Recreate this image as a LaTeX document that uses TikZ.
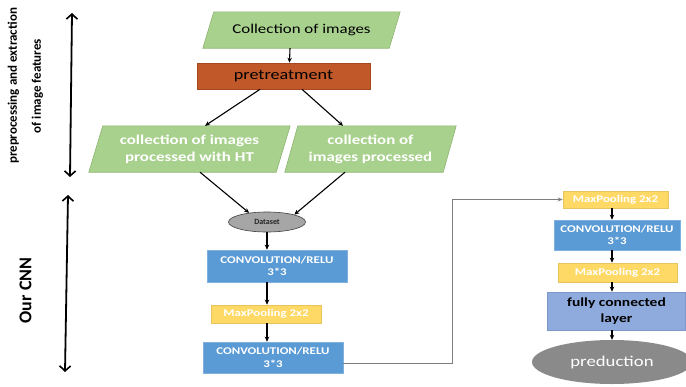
\documentclass[tikz,border=0pt]{standalone}
\usepackage{fontspec}
\setmainfont{Carlito}
\newfontfamily\wf[FakeStretch=1.25]{Carlito}
\usetikzlibrary{arrows.meta,shapes.geometric,calc}
\definecolor{pgreen}{HTML}{A9D18E}
\definecolor{pgreenb}{HTML}{8DB570}
\definecolor{porange}{HTML}{C0582A}
\definecolor{porangeb}{HTML}{A6481F}
\definecolor{pblue}{HTML}{5B9BD5}
\definecolor{pblueb}{HTML}{7FB0DE}
\definecolor{pyellow}{HTML}{FFD966}
\definecolor{pyellowb}{HTML}{E8C55A}
\definecolor{pviolet}{HTML}{8FAADC}
\definecolor{pvioletb}{HTML}{7C97C8}
\definecolor{pgrey}{HTML}{A6A6A6}
\definecolor{pgreyd}{HTML}{8A8A8A}
\definecolor{plink}{HTML}{7F7F7F}
\begin{document}
\begin{tikzpicture}[x=1pt,y=-1pt,
  para/.style={inner sep=0pt,align=center,text=white,font=\wf\bfseries\fontsize{13.5}{17}\selectfont},
  convbox/.style={rectangle,fill=pblue,draw=pblueb,line width=0.6pt,inner sep=0pt,align=center,text=white,font=\wf\bfseries\fontsize{10.3}{12.5}\selectfont},
  poolbox/.style={rectangle,fill=pyellow,draw=pyellowb,line width=0.6pt,inner sep=0pt,align=center,text=white,font=\wf\bfseries\fontsize{10.3}{12}\selectfont},
  flow/.style={-{Stealth[length=5pt,width=4.5pt]},line width=1.1pt,black},
  bigarr/.style={{Straight Barb[length=5pt,width=11pt,line width=1.6pt]}-{Straight Barb[length=5pt,width=11pt,line width=1.6pt]},line width=1.8pt,black},
  side/.style={align=center,font=\bfseries,rotate=90}]
\useasboundingbox (0,0) rectangle (686,386);

% top parallelogram
\node[para,text=black,font=\wf\fontsize{13.5}{16}\selectfont,minimum width=197pt,minimum height=36pt] (top) at (301.5,30) {Collection of images};
\path[fill=pgreen,draw=pgreenb,line width=0.6pt] ([xshift=11pt]top.north west) -- (top.north east) -- ([xshift=-11pt]top.south east) -- (top.south west) -- cycle;
\node[para,text=black,font=\wf\fontsize{13.5}{16}\selectfont] at (top) {Collection of images};

% pretreatment
\node[rectangle,fill=porange,draw=porangeb,line width=0.6pt,minimum width=173pt,minimum height=26pt,inner sep=0pt,font=\wf\fontsize{14.5}{16}\selectfont] (pre) at (283.5,76) {pretreatment};

% left / right parallelograms
\node[para,minimum width=201pt,minimum height=46pt] (lp) at (189.5,149) {};
\path[fill=pgreen,draw=pgreenb,line width=0.6pt] ([xshift=14pt]lp.north west) -- (lp.north east) -- ([xshift=-14pt]lp.south east) -- (lp.south west) -- cycle;
\node[para] at (lp) {collection of images\\processed with HT};

\node[para,minimum width=171pt,minimum height=46pt] (rp) at (370.5,149) {};
\path[fill=pgreen,draw=pgreenb,line width=0.6pt] ([xshift=13pt]rp.north west) -- (rp.north east) -- ([xshift=-13pt]rp.south east) -- (rp.south west) -- cycle;
\node[para] at (rp) {collection of\\images processed};

% dataset
\node[ellipse,fill=pgrey,draw=black!75,line width=0.6pt,minimum width=77pt,minimum height=20pt,inner sep=0pt,font=\bfseries\fontsize{8}{9}\selectfont,text=black!85] (ds) at (267,222) {Dataset};

% left CNN column
\node[convbox,minimum width=140pt,minimum height=32pt] (c1) at (277,266) {CONVOLUTION/RELU\\3*3};
\node[poolbox,minimum width=110pt,minimum height=18pt] (mp1) at (266,314) {MaxPooling 2x2};
\node[convbox,minimum width=140pt,minimum height=31pt] (c2) at (273,357.5) {CONVOLUTION/RELU\\3*3};

% right CNN column
\node[poolbox,minimum width=105pt,minimum height=17pt] (mpa) at (615.5,199.5) {MaxPooling 2x2};
\node[convbox,minimum width=126pt,minimum height=30pt] (c3) at (617,235) {CONVOLUTION/RELU\\3*3};
\node[poolbox,minimum width=119pt,minimum height=19pt] (mpb) at (617.5,272.5) {MaxPooling 2x2};
\node[rectangle,fill=pviolet,draw=pvioletb,line width=0.6pt,minimum width=138pt,minimum height=38pt,inner sep=0pt,align=center,font=\wf\bfseries\fontsize{12.4}{16}\selectfont] (fc) at (616.5,311) {fully connected\\layer};
\node[ellipse,fill=pgreyd,minimum width=160pt,minimum height=44pt,inner sep=0pt,text=white,font=\wf\fontsize{15}{17}\selectfont] (prod) at (612,362) {preduction};

% flow arrows
\draw[flow] ([xshift=-11.5pt]top.south) -- ([xshift=6pt]pre.north);
\draw[flow] ([xshift=-23.5pt]pre.south) -- ([xshift=15.5pt]lp.north);
\draw[flow] ([xshift=18.5pt]pre.south) -- ([xshift=-27.5pt]rp.north);
\draw[flow] ([xshift=10.5pt]lp.south) -- (ds.153);
\draw[flow] ([xshift=-25.5pt]rp.south) -- (ds.15);
\draw[flow] (ds.south) -- (ds.south |- c1.north);
\draw[flow] (ds.south |- c1.south) -- (ds.south |- mp1.north);
\draw[flow] (ds.south |- mp1.south) -- (ds.south |- c2.north);

\draw[line width=0.8pt,plink,-{Stealth[length=5pt,width=4pt]}] ([yshift=-5.5pt]c2.east) -- ++(109,0) |- (mpa.west);

\draw[flow] (prod.north |- mpa.south) -- (prod.north |- c3.north);
\draw[flow] (prod.north |- c3.south) -- (prod.north |- mpb.north);
\draw[flow] (prod.north |- mpb.south) -- (prod.north |- fc.north);
\draw[flow] (prod.north |- fc.south) -- (prod.north);

% side arrows and labels
\coordinate (a1) at (72,13);
\coordinate (a2) at (70,177);
\coordinate (b1) at (68,195);
\coordinate (b2) at (65,372);
\draw[bigarr] (a1) -- (a2);
\draw[bigarr] (b1) -- (b2);
\node[side,font=\bfseries\fontsize{13}{24}\selectfont] (lab1) at (25.5,86) {preprocessing and extraction\\of image features};
\node[side,font=\bfseries\fontsize{18}{20}\selectfont] (lab2) at (25.5,290.5) {Our CNN};
\end{tikzpicture}
\end{document}
